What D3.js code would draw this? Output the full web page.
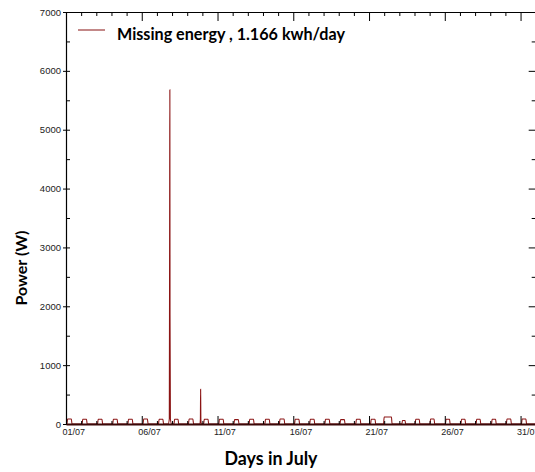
<!DOCTYPE html>
<html>
<head>
<meta charset="utf-8">
<script src="https://cdn.jsdelivr.net/npm/d3@7"></script>
<style>
  body { margin: 0; background: #fff; }
  .tick text { font-family: "Liberation Sans", Arial, sans-serif; fill: #222; }
</style>
</head>
<body>
<div id="chart"></div>
<script>
// days are counted from 01/07 00:00 (0 = 01/07, 30 = 31/07)
const xTickDays = [0, 5, 10, 15, 20, 25, 30];
const xTickLabels = ["01/07", "06/07", "11/07", "16/07", "21/07", "26/07", "31/07"];
const yTicks = [0, 1000, 2000, 3000, 4000, 5000, 6000, 7000];

// daily small load bump: start hour, end hour, level (W), one per day of July
const bumpOn    = [1.5, 1.5, 2, 2, 2, 2, 2.5, 3, 2, 2, 2, 2, 2, 3, 2, 2, 2, 2, 2, 3, 2.5, -1, 4, 1, 0.5, 1, 1.5, 1.5, 2, 1.5, 1.5];
const bumpOff   = [9.5, 9.5, 10, 10, 10, 10, 10.5, 10.5, 10, 10, 10, 10, 10, 11, 10.5, 10, 10, 10, 10, 11, 10.5, 12.5, 10, 8.5, 8, 8.5, 9, 9, 9.5, 9.5, 9.5];
const bumpLevel = [85, 80, 80, 80, 80, 85, 80, 80, 85, 80, 80, 75, 80, 80, 85, 80, 80, 80, 75, 80, 80, 120, 60, 80, 85, 80, 80, 80, 80, 85, 85];

// short peaks on 07/07 and 09/07 evening
const spikeTime  = [6.74, 6.82, 6.845, 6.855, 6.865, 6.89, 6.97, 8.84, 8.87, 8.885, 8.90, 8.93];
const spikeValue = [0, 90, 4300, 5680, 1850, 90, 0, 0, 80, 590, 80, 0];

const seriesName = "Missing energy , 1.166 kwh/day";

const margin = { top: 12, right: 0, bottom: 48, left: 66 },
    width = 535.7 - margin.left,
    height = 472 - margin.top - margin.bottom;

const svg = d3.select("#chart")
    .append("svg")
    .attr("width", 535)
    .attr("height", 472)
    .append("g")
    .attr("transform", `translate(${margin.left},${margin.top})`);

const x = d3.scaleLinear().domain([0, 31]).range([0, width]);
const y = d3.scaleLinear().domain([0, 7000]).range([height, 0]);

// build the power readings
let points = [[0, 0], [31, 0]];
bumpLevel.forEach((lv, i) => {
    points.push([i + bumpOn[i] / 24, 0]);
    points.push([i + (bumpOn[i] + 1) / 24, lv]);
    points.push([i + (bumpOff[i] - 1) / 24, lv]);
    points.push([i + bumpOff[i] / 24, 0]);
});
spikeTime.forEach((t, i) => points.push([t, spikeValue[i]]));
points.sort((a, b) => a[0] - b[0]);

svg.append("clipPath").attr("id", "clip")
    .append("rect").attr("width", width).attr("height", height + 2).attr("y", -1);

const line = d3.line()
    .x(d => x(d[0]))
    .y(d => y(d[1]))
    .curve(d3.curveMonotoneX);

svg.append("path")
    .datum(points)
    .attr("clip-path", "url(#clip)")
    .attr("fill", "none")
    .attr("stroke", "#8b1414")
    .attr("stroke-width", 1.1)
    .attr("d", line);

const days = d3.range(0, 32);
const halfK = d3.range(0, 7001, 500);

// left axis: labels + outward major ticks
svg.append("g")
    .call(d3.axisLeft(y).tickValues(yTicks).tickSize(3).tickPadding(2).tickFormat(d3.format("d")))
    .call(g => g.select(".domain").attr("stroke", "#000").attr("stroke-width", 1.2))
    .selectAll("text").style("font-size", "9.5px");
// left axis inner ticks
svg.append("g")
    .call(d3.axisRight(y).tickValues(halfK).tickSize(4).tickFormat(""))
    .call(g => g.select(".domain").remove());

// right axis ticks (inward)
svg.append("g")
    .attr("transform", `translate(${width},0)`)
    .call(d3.axisLeft(y).tickValues(halfK).tickSizeOuter(0)
        .tickSize(4).tickFormat(""))
    .call(g => g.selectAll(".tick line").attr("x2", d => d % 1000 === 0 ? -7 : -4));

// top axis ticks (inward)
svg.append("g")
    .call(d3.axisBottom(x).tickValues(days).tickSizeOuter(0).tickFormat(""))
    .call(g => g.select(".domain").attr("stroke", "#000").attr("stroke-width", 1.2))
    .call(g => g.selectAll(".tick line").attr("y2", d => d % 5 === 0 ? 9 : 4));

// bottom axis ticks (inward) + labels
svg.append("g")
    .attr("transform", `translate(0,${height})`)
    .call(d3.axisTop(x).tickValues(days).tickSizeOuter(0).tickFormat(""))
    .call(g => g.select(".domain").attr("stroke", "#3a0808").attr("stroke-width", 2))
    .call(g => g.selectAll(".tick line").attr("y2", d => d % 5 === 0 ? -8 : -3));

svg.append("g")
    .attr("transform", `translate(0,${height})`)
    .call(d3.axisBottom(x).tickValues(xTickDays).tickSize(0).tickPadding(5)
        .tickFormat((d, i) => xTickLabels[i]))
    .call(g => g.select(".domain").remove())
    .selectAll("text")
    .style("font-size", "9px")
    .attr("text-anchor", "start")
    .attr("dx", -4);

// legend
svg.append("line")
    .attr("x1", 12).attr("x2", 39)
    .attr("y1", 18).attr("y2", 18)
    .attr("stroke", "#9c3a3a").attr("stroke-width", 1.2);
svg.append("text")
    .attr("x", 51).attr("y", 28)
    .attr("textLength", 228).attr("lengthAdjust", "spacingAndGlyphs")
    .attr("style", "fill: black; font-size: 17px; font-weight: bold; font-family: Lato")
    .text(seriesName);

// axis titles
svg.append("text")
    .attr("x", 205).attr("y", height + 41)
    .attr("text-anchor", "middle")
    .attr("textLength", 93).attr("lengthAdjust", "spacingAndGlyphs")
    .attr("style", "fill: black; font-size: 18px; font-weight: bold; font-family: Lato")
    .text("Days in July");

svg.append("text")
    .attr("transform", `translate(${-39},${256}) rotate(-90)`)
    .attr("text-anchor", "middle")
    .attr("style", "fill: black; font-size: 16px; font-weight: bold; font-family: Lato")
    .text("Power (W)");
</script>
</body>
</html>
